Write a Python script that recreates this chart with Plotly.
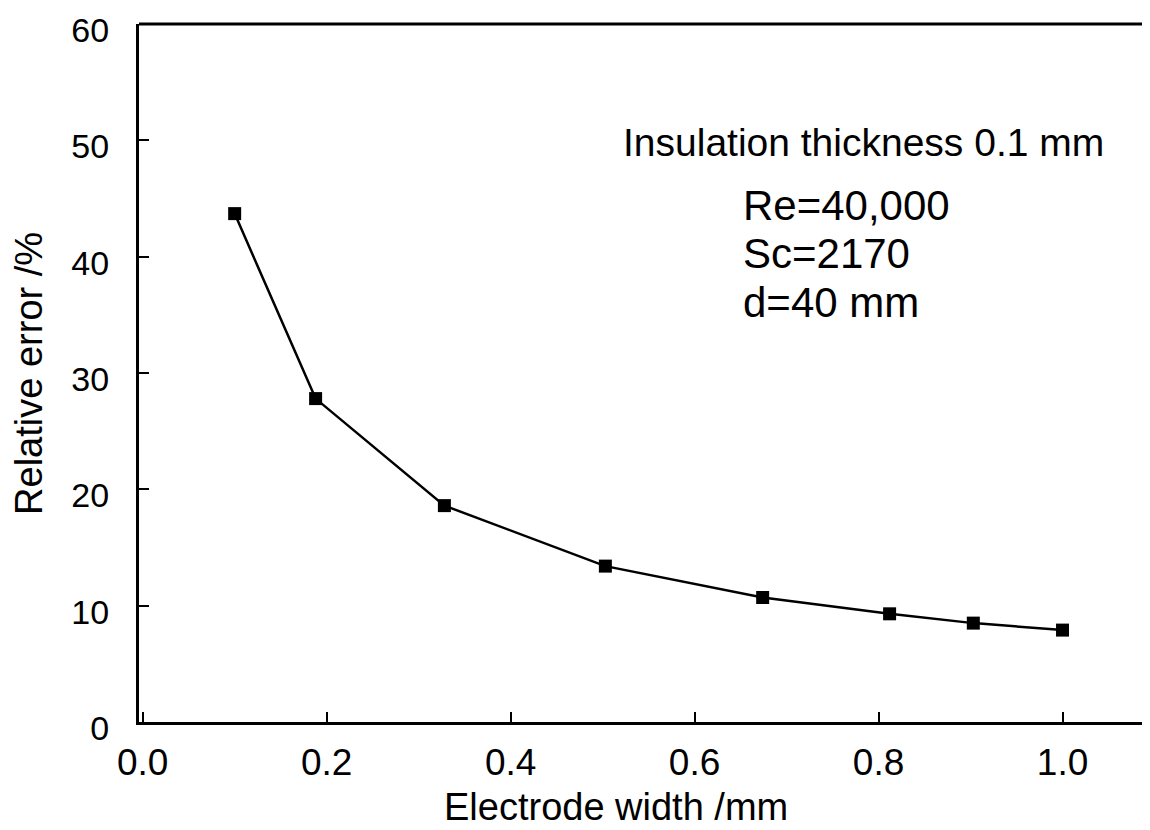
import plotly.graph_objects as go

electrode_width = [0.100, 0.188, 0.328, 0.503, 0.674, 0.812, 0.903, 1.000]
relative_error = [43.7, 27.8, 18.6, 13.4, 10.7, 9.3, 8.5, 7.9]

x_ticks = [0.0, 0.2, 0.4, 0.6, 0.8, 1.0]
x_tick_text = ["0.0", "0.2", "0.4", "0.6", "0.8", "1.0"]
y_ticks = [0, 10, 20, 30, 40, 50, 60]
y_tick_text = ["0", "10", "20", "30", "40", "50", "60"]

x_title = "Electrode width /mm"
y_title = "Relative error /%"
note_title = "Insulation thickness 0.1 mm"
note_lines = ["Re=40,000", "Sc=2170", "d=40 mm"]

FONT = "Liberation Sans, Arial, sans-serif"

fig = go.Figure()
fig.add_trace(go.Scatter(
    x=electrode_width, y=relative_error,
    mode="lines+markers",
    line=dict(color="black", width=2.5),
    marker=dict(symbol="square", size=13, color="black"),
    showlegend=False,
))

# the page body adds an 8px margin, so the figure is sized to fit the window
fig.update_layout(
    width=1142, height=822,
    margin=dict(l=131, r=1, t=16, b=108, autoexpand=False),
    paper_bgcolor="white", plot_bgcolor="white",
    font=dict(family=FONT, color="black", size=36),
    xaxis=dict(
        range=[-0.004, 1.094], tickvals=x_ticks, ticktext=x_tick_text,
        showline=True, linecolor="black", linewidth=3,
        ticks="inside", ticklen=10, tickwidth=2, tickcolor="black",
        showgrid=False, zeroline=False, automargin=False,
        tickfont=dict(size=37), ticklabelstandoff=6,
    ),
    yaxis=dict(
        range=[0, 60], tickvals=y_ticks, ticktext=y_tick_text,
        showline=True, linecolor="black", linewidth=3,
        ticks="inside", ticklen=10, tickwidth=2, tickcolor="black",
        showgrid=False, zeroline=False, ticklabeloverflow="allow",
        automargin=False,
        tickfont=dict(size=34), ticklabelstandoff=20, ticklabelshift=6,
    ),
)

# axis titles
fig.add_annotation(x=0.472, y=-0.1218, xref="paper", yref="paper",
                   text=x_title, showarrow=False,
                   xanchor="center", yanchor="middle", font=dict(size=38))
fig.add_annotation(x=-0.109, y=0.5, xref="paper", yref="paper",
                   text=y_title, showarrow=False, textangle=-90,
                   xanchor="center", yanchor="middle", font=dict(size=38))

# frame: top border and partial right border
fig.add_shape(type="line", xref="paper", yref="paper", x0=0, x1=1, y0=1, y1=1,
              line=dict(color="black", width=3))
fig.add_shape(type="line", xref="paper", yref="paper", x0=0.999, x1=0.999, y0=0, y1=0.38,
              line=dict(color="black", width=3))

fig.add_annotation(x=1.047, y=49.8, xref="x", yref="y",
                   text=note_title, showarrow=False,
                   xanchor="right", yanchor="middle", font=dict(size=39))
for txt, yy in zip(note_lines, [44.4, 40.3, 36.1]):
    fig.add_annotation(x=0.650, y=yy, xref="x", yref="y", text=txt,
                       showarrow=False, xanchor="left", yanchor="middle",
                       font=dict(size=42))

fig.write_html("out.html")
